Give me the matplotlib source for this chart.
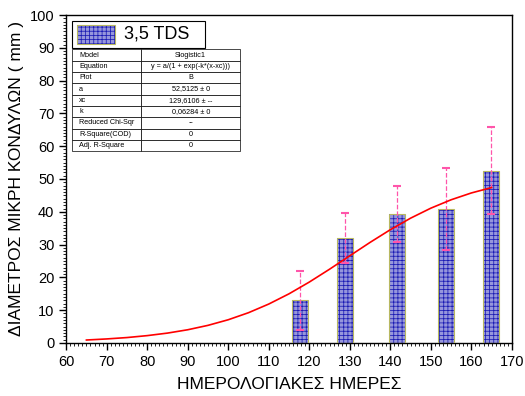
import matplotlib.pyplot as plt
from matplotlib.patches import Rectangle
from matplotlib.ticker import MultipleLocator

plt.rcParams['font.family'] = ['Liberation Sans', 'DejaVu Sans']
plt.rcParams['hatch.linewidth'] = 0.55

# 日期与直径
days = [117.8, 128.9, 141.6, 153.8, 164.8]
diam = [13.0, 32.0, 39.3, 40.7, 52.5]
err = [9.0, 7.6, 8.6, 12.5, 13.3]

# 拟合曲线
fit_x = [65, 70, 75, 80, 85, 90, 95, 100, 105, 110, 115, 120, 125, 130, 135, 140, 145, 150, 155, 160, 165]
fit_y = [0.89, 1.22, 1.64, 2.23, 3.00, 4.02, 5.36, 7.07, 9.22, 11.86, 14.98, 18.56, 22.48, 26.58,
         30.66, 34.53, 38.05, 41.10, 43.66, 45.74, 47.39]

table_rows = [
    ('Model', 'Slogistic1'),
    ('Equation', 'y = a/(1 + exp(-k*(x-xc)))'),
    ('Plot', 'B'),
    ('a', '52,5125 ± 0'),
    ('xc', '129,6106 ± --'),
    ('k', '0,06284 ± 0'),
    ('Reduced Chi-Sqr', '--'),
    ('R-Square(COD)', '0'),
    ('Adj. R-Square', '0'),
]

fig = plt.figure(figsize=(5.25, 3.96), dpi=100)
ax = fig.add_axes([0.126, 0.134, 0.849, 0.828])

ax.bar(days, diam, width=4.0, color='#9696dc', edgecolor='#1a1ab4', hatch='++++', linewidth=0, zorder=2)
ax.bar(days, diam, width=4.0, fill=False, edgecolor='#b8b860', linewidth=0.8, zorder=3)
eb = ax.errorbar(days, diam, yerr=err, fmt='none', ecolor='#ff55aa', elinewidth=0.9,
                 capsize=3, capthick=1.5, zorder=4)
eb[2][0].set_linestyle('--')

ax.plot(fit_x, fit_y, color='red', linewidth=1.2, zorder=5)

ax.set_xlim(60, 170)
ax.set_ylim(0, 100)
ax.xaxis.set_major_locator(MultipleLocator(10))
ax.xaxis.set_minor_locator(MultipleLocator(1))
ax.yaxis.set_major_locator(MultipleLocator(10))
ax.yaxis.set_minor_locator(MultipleLocator(1))
ax.tick_params(which='major', length=5, width=1, labelsize=10.5, direction='out')
ax.tick_params(which='minor', length=2.5, width=0.6, direction='out')
for s in ax.spines.values():
    s.set_linewidth(1.0)

ax.set_xlabel('ΗΜΕΡΟΛΟΓΙΑΚΕΣ ΗΜΕΡΕΣ', fontsize=12.5, labelpad=6)
ax.set_ylabel('ΔΙΑΜΕΤΡΟΣ ΜΙΚΡΗ ΚΟΝΔΥΛΩΝ ( mm )', fontsize=12.5, labelpad=4)

# 图例框
tr = ax.transAxes
ax.add_patch(Rectangle((0.0135, 0.900), 0.297, 0.082, transform=tr, facecolor='white',
                       edgecolor='black', linewidth=0.8, zorder=6))
ax.add_patch(Rectangle((0.025, 0.913), 0.085, 0.058, transform=tr, facecolor='#9696dc',
                       edgecolor='#1a1ab4', hatch='++++', linewidth=0, zorder=7))
ax.add_patch(Rectangle((0.025, 0.913), 0.085, 0.058, transform=tr, fill=False,
                       edgecolor='#b8b860', linewidth=0.8, zorder=8))
ax.text(0.13, 0.941, '3,5 TDS', transform=tr, fontsize=13, va='center', ha='left', zorder=8)

# 拟合参数表
tbl = ax.table(cellText=[list(r) for r in table_rows], cellLoc='left',
               colWidths=[0.155, 0.222], bbox=[0.0135, 0.585, 0.377, 0.31], zorder=9)
tbl.auto_set_font_size(False)
tbl.set_fontsize(5.2)
for (r, c), cell in tbl.get_celld().items():
    cell.set_linewidth(0.5)
    cell.set_facecolor('white')
    if c == 1:
        cell._loc = 'center'
        cell.get_text().set_ha('center')

fig.savefig('out.png', dpi=100)
